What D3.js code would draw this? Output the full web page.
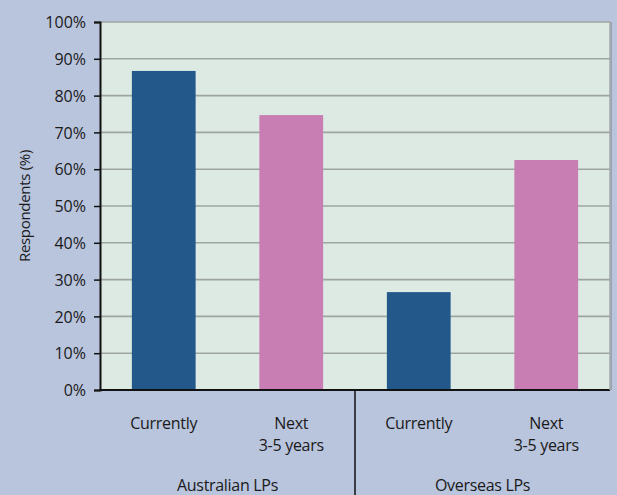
<!DOCTYPE html>
<html>
<head>
<meta charset="utf-8">
<script src="https://cdn.jsdelivr.net/npm/d3@7"></script>
<style>
  html, body { margin: 0; padding: 0; background: #b9c4dd; }
  svg { display: block; }
  text { font-family: "Open Sans", "Liberation Sans", sans-serif; fill: #1a1a1a; }
</style>
</head>
<body>
<svg id="chart" width="617" height="495"></svg>
<script>
// Share of respondents, by investor group and time frame
const groups = ["Australian LPs", "Overseas LPs"];
const periods = ["Currently", "Next\n3-5 years"];
const values = [86.7, 74.7, 26.6, 62.5];
const colors = ["#22588a", "#c87db3"];
const yTicks = [0, 10, 20, 30, 40, 50, 60, 70, 80, 90, 100];

const svg = d3.select("#chart");
const W = 617, H = 495;
const m = { left: 100, right: 7, top: 22, bottom: 105 };
const pw = W - m.left - m.right, ph = H - m.top - m.bottom;
const labelFont = "16px";

const bars = [];
groups.forEach((g, gi) => periods.forEach((p, pi) => {
  bars.push({ key: gi + "-" + pi, group: gi, period: pi, label: p, value: values[gi * periods.length + pi] });
}));

const x = d3.scaleBand().domain(bars.map(d => d.key)).range([m.left, m.left + pw]).paddingInner(0.5).paddingOuter(0.25);
const y = d3.scaleLinear().domain([0, 100]).range([m.top + ph, m.top]);

// plot background with a soft right-edge shadow
svg.append("rect").attr("x", m.left + pw).attr("y", m.top).attr("width", 2).attr("height", ph)
  .attr("fill", "#9aa3b4");
svg.append("rect").attr("x", m.left).attr("y", m.top).attr("width", pw).attr("height", ph)
  .attr("fill", "#dceae3");

// gridlines
svg.append("g").selectAll("line").data(yTicks.filter(t => t > 0)).join("line")
  .attr("x1", m.left).attr("x2", m.left + pw)
  .attr("y1", d => y(d)).attr("y2", d => y(d))
  .attr("stroke", "#9ea5a1").attr("stroke-width", 1.6);

// bars
svg.append("g").selectAll("rect").data(bars).join("rect")
  .attr("x", d => x(d.key)).attr("width", x.bandwidth())
  .attr("y", d => y(d.value)).attr("height", d => y(0) - y(d.value))
  .attr("fill", d => colors[d.period]);

// y axis
const yAxis = d3.axisLeft(y).tickValues(yTicks).tickFormat(d => d + "%").tickSize(6).tickPadding(8);
const ga = svg.append("g").attr("transform", `translate(${m.left},0)`).call(yAxis);
ga.select(".domain").attr("stroke", "#111").attr("stroke-width", 2);
ga.selectAll(".tick line").attr("stroke", "#111").attr("stroke-width", 1.5);
ga.selectAll(".tick text").style("font-size", labelFont).attr("fill", "#1a1a1a")
  .style("font-family", "'Open Sans', sans-serif").attr("dy", "0.36em");

// baseline
svg.append("line").attr("x1", m.left - 1).attr("x2", m.left + pw)
  .attr("y1", y(0)).attr("y2", y(0)).attr("stroke", "#111").attr("stroke-width", 2);

// right plot edge
svg.append("line").attr("x1", m.left + pw).attr("x2", m.left + pw)
  .attr("y1", m.top).attr("y2", m.top + ph).attr("stroke", "#a5aaa8").attr("stroke-width", 1.5);

// group divider
const groupWidth = pw / groups.length;
for (let i = 1; i < groups.length; i++) {
  const gx = m.left + groupWidth * i;
  svg.append("line").attr("x1", gx).attr("x2", gx).attr("y1", y(0)).attr("y2", H)
    .attr("stroke", "#111").attr("stroke-width", 1.5);
}

// category labels
const cat = svg.append("g");
bars.forEach(d => {
  const cx = x(d.key) + x.bandwidth() / 2;
  const t = cat.append("text").attr("x", cx).attr("y", 429)
    .attr("text-anchor", "middle").style("font-size", labelFont).style("letter-spacing", "-0.3px");
  d.label.split("\n").forEach((line, i) => {
    t.append("tspan").attr("x", cx).attr("dy", i === 0 ? 0 : 22).text(line);
  });
});

// group labels
groups.forEach((g, gi) => {
  svg.append("text").attr("x", m.left + groupWidth * (gi + 0.5)).attr("y", 491)
    .attr("text-anchor", "middle").style("font-size", labelFont).style("letter-spacing", "-0.3px").text(g);
});

// y axis title
svg.append("text").attr("transform", `translate(30,${m.top + ph / 2}) rotate(-90)`)
  .attr("text-anchor", "middle").style("font-size", "15px").style("letter-spacing", "-0.3px")
  .text("Respondents (%)");
</script>
</body>
</html>
